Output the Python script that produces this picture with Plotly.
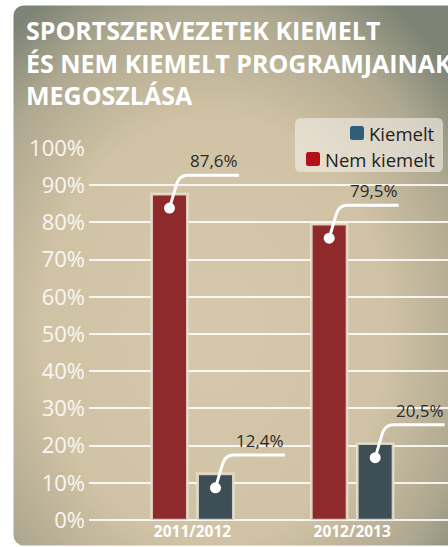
import base64
import plotly.graph_objects as go

# --- Data ---
categories = ["2011/2012", "2012/2013"]
series_names = ["Nem kiemelt", "Kiemelt"]
nem_kiemelt = [87.6, 79.5]
kiemelt = [12.4, 20.5]
title_lines = ["SPORTSZERVEZETEK KIEMELT", "ÉS NEM KIEMELT PROGRAMJAINAK", "MEGOSZLÁSA"]

W, H = 448, 547
ML, MR, MT, MB = 89, 0, 148, 27
PW, PH = W - ML - MR, H - MT - MB
BARGAP = 0.424
SLOT = (1 - BARGAP) / 2
FONT = "Open Sans"


def px_to_paper(px, py):
    return (px - ML) / PW, (H - MB - py) / PH


def rounded_path(hw, hh, r):
    # rounded rectangle centred at the anchor, in pixels
    return (f"M {-hw + r},{-hh} L {hw - r},{-hh} Q {hw},{-hh} {hw},{-hh + r} "
            f"L {hw},{hh - r} Q {hw},{hh} {hw - r},{hh} L {-hw + r},{hh} "
            f"Q {-hw},{hh} {-hw},{hh - r} L {-hw},{-hh + r} Q {-hw},{-hh} {-hw + r},{-hh} Z")


# background panel with radial gradient
svg = f"""<svg xmlns='http://www.w3.org/2000/svg' width='{W}' height='{H}' viewBox='0 0 {W} {H}'>
<defs><radialGradient id='g' gradientUnits='userSpaceOnUse' cx='215' cy='330' r='300'
 gradientTransform='translate(215 330) scale(1.05 1.3) translate(-215 -330)'>
<stop offset='0' stop-color='#d6c8aa'/><stop offset='0.55' stop-color='#d0c2a4'/>
<stop offset='0.82' stop-color='#aea890'/><stop offset='1' stop-color='#7e8475'/>
</radialGradient></defs>
<rect x='13.5' y='5.5' width='470' height='540' rx='10' ry='10' fill='url(#g)'/>
</svg>"""
bg_src = "data:image/svg+xml;base64," + base64.b64encode(svg.encode()).decode()

positions = list(range(len(categories)))

fig = go.Figure()
fig.add_trace(go.Bar(
    x=positions, y=nem_kiemelt, name=series_names[0],
    marker=dict(color="#8e2a2c", line=dict(color="rgba(236,229,212,0.85)", width=2.7)),
    hoverinfo="skip", showlegend=False,
))
fig.add_trace(go.Bar(
    x=positions, y=kiemelt, name=series_names[1],
    marker=dict(color="#3d4f55", line=dict(color="rgba(236,229,212,0.85)", width=2.7)),
    hoverinfo="skip", showlegend=False,
))

shapes = []
annotations = []

# callouts
for sign, values in [(-1, nem_kiemelt), (1, kiemelt)]:
    for i, v in zip(positions, values):
        cx = i + sign * SLOT / 2
        vd = v - 3.75
        vl = v + 5.1
        shapes.append(dict(
            type="path", xref="x", yref="y", layer="above",
            path=(f"M {cx},{vd} L {cx + 0.04},{vl - 3} Q {cx + 0.058},{vl} {cx + 0.11},{vl} "
                  f"L {cx + 0.435},{vl}"),
            line=dict(color="white", width=3),
        ))
        shapes.append(dict(
            type="circle", xref="x", yref="y", layer="above",
            xsizemode="pixel", ysizemode="pixel", xanchor=cx, yanchor=vd,
            x0=-5.5, x1=5.5, y0=-5.5, y1=5.5,
            fillcolor="white", line=dict(width=0),
        ))
        annotations.append(dict(
            x=cx + 0.28, y=vl, xref="x", yref="y", yanchor="bottom", yshift=1,
            text=f"{v:.1f}".replace(".", ",") + "%", showarrow=False,
            font=dict(family=FONT, size=17, color="#2b2b2b"),
        ))

# legend (box, swatches, text)
bx, by = px_to_paper(369, 145)
shapes.append(dict(
    type="path", xref="paper", yref="paper", xsizemode="pixel", ysizemode="pixel",
    xanchor=bx, yanchor=by, path=rounded_path(74, 27, 6),
    fillcolor="rgba(242,238,230,0.62)", line=dict(width=0), layer="above",
))
legend_items = [("Kiemelt", "#2f5e79", 357, 133), ("Nem kiemelt", "#b3111a", 313, 159)]
for label, color, sx, sy in legend_items:
    ax_, ay_ = px_to_paper(sx, sy)
    shapes.append(dict(
        type="path", xref="paper", yref="paper", xsizemode="pixel", ysizemode="pixel",
        xanchor=ax_, yanchor=ay_, path=rounded_path(7, 7, 2.5),
        fillcolor=color, line=dict(width=0), layer="above",
    ))
    tx, ty = px_to_paper(437, sy)
    annotations.append(dict(
        x=tx, y=ty, xref="paper", yref="paper", xanchor="right", yanchor="middle",
        text=label, showarrow=False, font=dict(family=FONT, size=18.5, color="#222222"),
    ))

fig.update_layout(
    width=W, height=H,
    margin=dict(l=ML, r=MR, t=MT, b=MB, pad=0),
    paper_bgcolor="white", plot_bgcolor="rgba(0,0,0,0)",
    barmode="group", bargap=BARGAP, bargroupgap=0.224,
    title=dict(
        text="<br>".join(title_lines),
        font=dict(family=FONT, size=25, color="white", weight="bold"),
        x=26 / W, xanchor="left", xref="container",
        y=1 - 40 / H, yanchor="top", yref="container",
    ),
    xaxis=dict(
        range=[-0.648, 1.6], tickvals=positions, ticktext=categories,
        showgrid=False, zeroline=False, showline=False, ticks="",
        tickfont=dict(family=FONT, size=15.5, color="white", weight="bold"),
    ),
    yaxis=dict(
        range=[0, 100], dtick=10, ticksuffix="%",
        showgrid=True, gridcolor="rgba(255,255,255,0.85)", gridwidth=1.6,
        zeroline=True, zerolinecolor="rgba(255,255,255,0.85)", zerolinewidth=1.6,
        showline=False, ticks="", ticklabelstandoff=3,
        tickfont=dict(family=FONT, size=22, color="#faf7f0"),
    ),
    images=[dict(
        source=bg_src, xref="paper", yref="paper",
        x=-ML / PW, y=1 + MT / PH, sizex=W / PW, sizey=H / PH,
        xanchor="left", yanchor="top", sizing="stretch", layer="below",
    )],
    shapes=shapes, annotations=annotations,
    showlegend=False,
)

fig.write_html(
    "out.html",
    config={"displayModeBar": False},
    post_script="document.body.style.margin='0';document.body.style.overflow='hidden';",
)
